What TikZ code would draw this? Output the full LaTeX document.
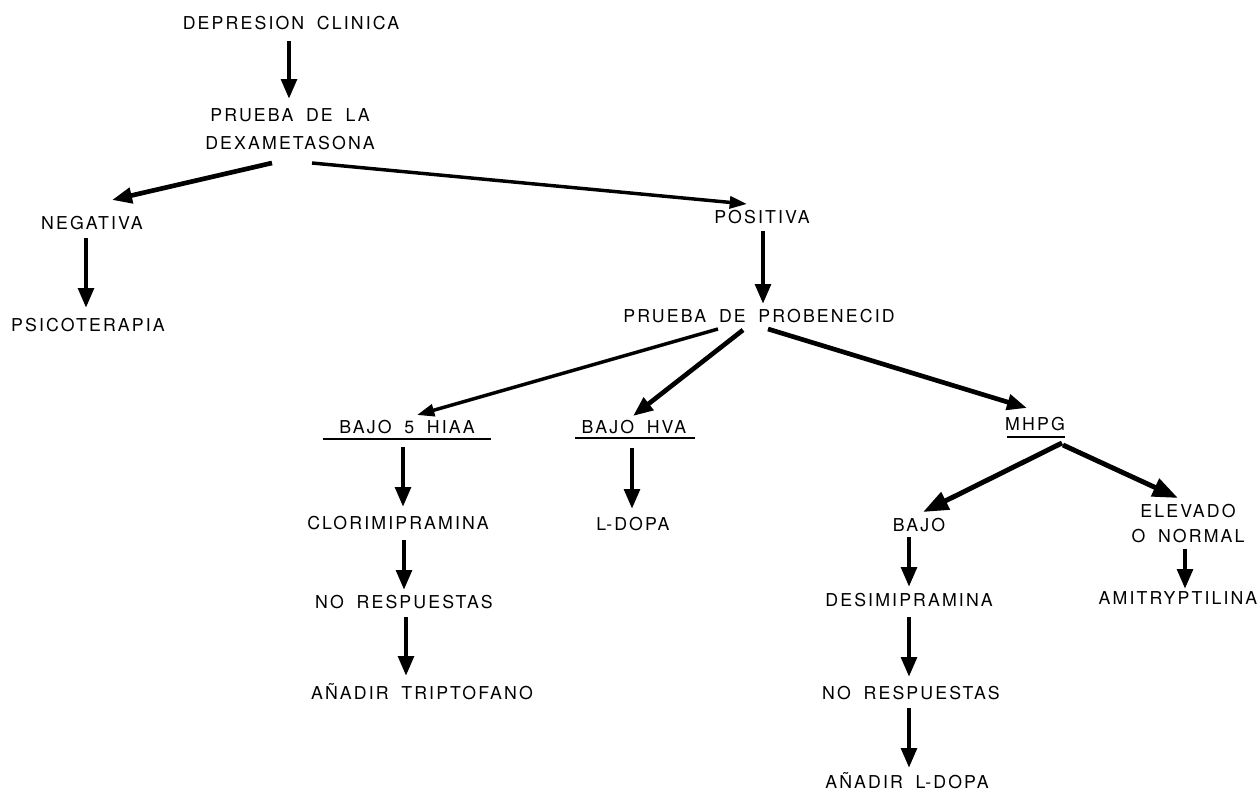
\documentclass[tikz,border=0pt]{standalone}
\usepackage{fontspec}
\setmainfont{TeX Gyre Heros}[LetterSpace=12,WordSpace=1.8]
\usetikzlibrary{arrows.meta}
\begin{document}
\begin{tikzpicture}[x=0.75pt,y=-0.75pt,
  lbl/.style={inner sep=0pt, text height=9.5pt, text depth=0pt, font=\fontsize{13.3}{21}\selectfont},
  lbltwo/.style={inner sep=0pt, align=center, font=\fontsize{13.3}{21}\selectfont},
  lblthree/.style={inner sep=0pt, align=center, font=\fontsize{13.3}{18.75}\selectfont},
  arr/.style={line width=3.5pt, -{Triangle[length=15pt,width=11.5pt]}},
  arrbig/.style={line width=3.7pt, -{Triangle[length=19pt,width=14pt]}},
  arrthin/.style={line width=2.6pt, -{Triangle[length=13pt,width=9pt]}},
  uline/.style={line width=1.4pt}]
\useasboundingbox (0,0) rectangle (1259,796);
\fill[white] (0,0) rectangle (1259,796);
% nodes
\node[lbl] (dep) at (291,23) {DEPRESION CLINICA};
\node[lbltwo] (dex) at (290,129) {PRUEBA DE LA\\DEXAMETASONA};
\node[lbl] (neg) at (92,223) {NEGATIVA};
\node[lbl] (psico) at (88,325) {PSICOTERAPIA};
\node[lbl] (pos) at (762,217) {POSITIVA};
\node[lbl] (prob) at (759,316) {PRUEBA DE PROBENECID};
\node[lbl] (b5) at (407,427) {BAJO 5 HIAA};
\node[lbl] (hva) at (634,427) {BAJO HVA};
\node[lbl] (mhpg) at (1035,424) {MHPG};
\node[lbl] (clor) at (398,523) {CLORIMIPRAMINA};
\node[lbl] (ldopa) at (633,524) {L-DOPA};
\node[lbl] (bajo) at (919,525) {BAJO};
\node[lblthree] (elev) at (1188,524) {ELEVADO\\O NORMAL};
\node[lbl] (nor1) at (404,602) {NO RESPUESTAS};
\node[lbl] (desi) at (909,600) {DESIMIPRAMINA};
\node[lbl] (ami) at (1178,598) {AMITRYPTILINA};
\node[lbl] (anad1) at (422,693) {AÑADIR TRIPTOFANO};
\node[lbl] (nor2) at (911,693) {NO RESPUESTAS};
\node[lbl] (anad2) at (907,782) {AÑADIR L-DOPA};
% underlines
\draw[uline] ([shift={(-84,12)}]b5.center) -- ([shift={(84,12)}]b5.center);
\draw[uline] ([shift={(-59,11)}]hva.center) -- ([shift={(61,11)}]hva.center);
\draw[uline] ([shift={(-28,13)}]mhpg.center) -- ([shift={(30,13)}]mhpg.center);
% connectors
\draw[arr] ([shift={(-2,18)}]dep.center) -- ([shift={(-1,-30)}]dex.center);
\draw[arr] ([shift={(-18,34)}]dex.center) -- ([shift={(20,-23)}]neg.center);
\draw[arrthin] ([shift={(22,34)}]dex.center) -- ([shift={(-15,-13)}]pos.center);
\draw[arr] ([shift={(-6,15)}]neg.center) -- ([shift={(-2,-17)}]psico.center);
\draw[arr] ([shift={(1,14)}]pos.center) -- ([shift={(4,-12)}]prob.center);
\draw[arrthin] ([shift={(-41,13)}]prob.center) -- ([shift={(10,-12)}]b5.center);
\draw[arr] ([shift={(-16,14)}]prob.center) -- ([shift={(-1,-11)}]hva.center);
\draw[arr] ([shift={(9,13)}]prob.center) -- ([shift={(-8,-16)}]mhpg.center);
\draw[arr] ([shift={(-4,20)}]b5.center) -- ([shift={(5,-16)}]clor.center);
\draw[arr] ([shift={(6,17)}]clor.center) -- ([shift={(0,-12)}]nor1.center);
\draw[arr] ([shift={(2,15)}]nor1.center) -- ([shift={(-16,-17)}]anad1.center);
\draw[arr] ([shift={(-2,21)}]hva.center) -- ([shift={(-1,-15)}]ldopa.center);
\draw[arrbig] ([shift={(27,19)}]mhpg.center) -- ([shift={(4,-13)}]bajo.center);
\draw[arrbig] ([shift={(28,21)}]mhpg.center) -- ([shift={(-10,-26)}]elev.center);
\draw[arr] ([shift={(-10,12)}]bajo.center) -- ([shift={(0,-13)}]desi.center);
\draw[arr] ([shift={(0,17)}]desi.center) -- ([shift={(-2,-16)}]nor2.center);
\draw[arr] ([shift={(-2,15)}]nor2.center) -- ([shift={(2,-14)}]anad2.center);
\draw[arr] ([shift={(-3,25)}]elev.center) -- ([shift={(7,-9)}]ami.center);
\end{tikzpicture}
\end{document}
